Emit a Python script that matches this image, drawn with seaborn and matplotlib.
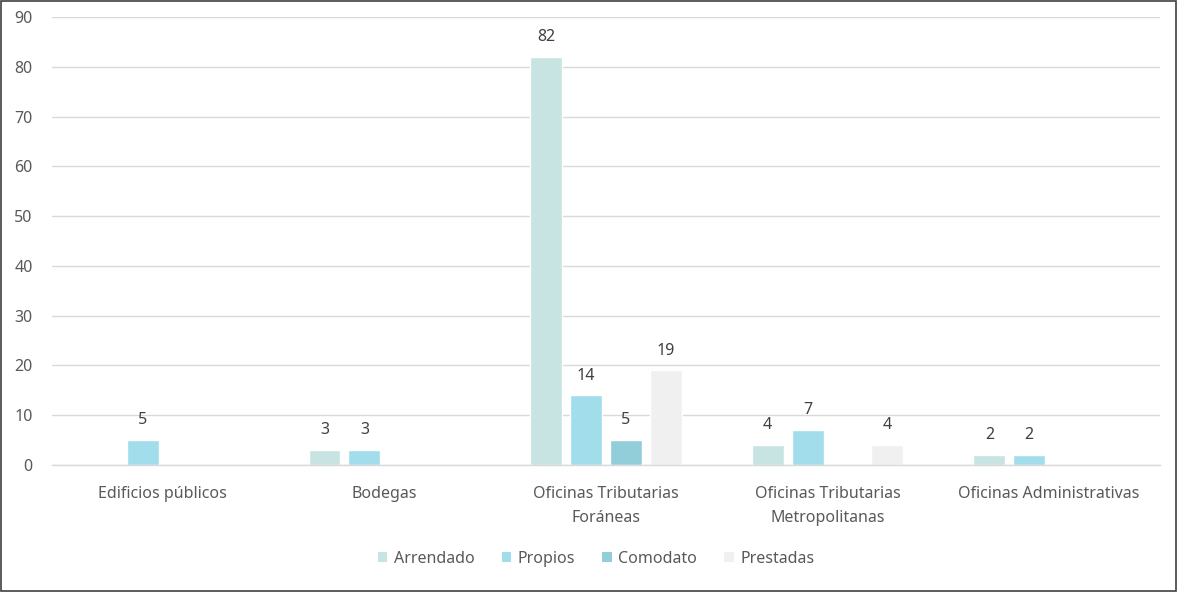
import pandas as pd
import seaborn as sns
import matplotlib.pyplot as plt
from matplotlib.patches import Rectangle, Patch

categorias = ["Edificios públicos", "Bodegas", "Oficinas Tributarias\nForáneas",
              "Oficinas Tributarias\nMetropolitanas", "Oficinas Administrativas"]
series = ["Arrendado", "Propios", "Comodato", "Prestadas"]
arrendado = [0, 3, 82, 4, 2]
propios = [5, 3, 14, 7, 2]
comodato = [0, 0, 5, 0, 0]
prestadas = [0, 0, 19, 4, 0]
colores = ["#C7E3E2", "#A1DDEA", "#92CDDA", "#F0F0F0"]

valores = [arrendado, propios, comodato, prestadas]
df = pd.DataFrame([
    {"categoria": c, "tipo": s, "valor": v}
    for s, vals in zip(series, valores)
    for c, v in zip(categorias, vals)
])

sns.set_theme(style="white")
plt.rcParams['font.family'] = ['Noto Sans', 'DejaVu Sans']
gris = "#595959"
fs = 11.5

fig = plt.figure(figsize=(11.78, 5.92), dpi=100)
ax = fig.add_axes([0.0441, 0.2145, 0.9406, 0.7568])

sns.barplot(data=df, x="categoria", y="valor", hue="tipo", order=categorias,
            hue_order=series, palette=colores, width=0.72, gap=0.2,
            saturation=1, legend=False, ax=ax)

for cont, vals in zip(ax.containers, valores):
    ax.bar_label(cont, labels=["" if v == 0 else str(v) for v in vals],
                 padding=8.5, color="#404040", fontsize=fs)

ax.set_ylim(0, 90)
ax.set_yticks(range(0, 91, 10))
ax.set_xlim(-0.5, 4.5)
ax.yaxis.grid(True, color="#D9D9D9", linewidth=1)
ax.set_axisbelow(True)
for s in ["top", "right", "left"]:
    ax.spines[s].set_visible(False)
ax.spines["bottom"].set_color("#D9D9D9")
ax.spines["bottom"].set_linewidth(1)
ax.set_xlabel("")
ax.set_ylabel("")
ax.tick_params(axis="y", length=0, pad=14, labelsize=fs, labelcolor=gris)
ax.tick_params(axis="x", length=0, pad=15, labelsize=fs, labelcolor=gris)
for lbl in ax.get_xticklabels():
    lbl.set_linespacing(1.65)

handles = [Patch(facecolor=c, edgecolor="none", label=s) for s, c in zip(series, colores)]
leg = fig.legend(handles=handles, loc="center", bbox_to_anchor=(0.506, 0.056), ncol=4,
                 frameon=False, fontsize=fs, handlelength=0.6, handleheight=0.6,
                 handletextpad=0.4, columnspacing=1.7)
for t in leg.get_texts():
    t.set_color(gris)

fig.patches.append(Rectangle((0.001, 0.001), 0.997, 0.997, transform=fig.transFigure,
                             fill=False, edgecolor="#404040", linewidth=1.2))

fig.savefig("out.png", dpi=100)
